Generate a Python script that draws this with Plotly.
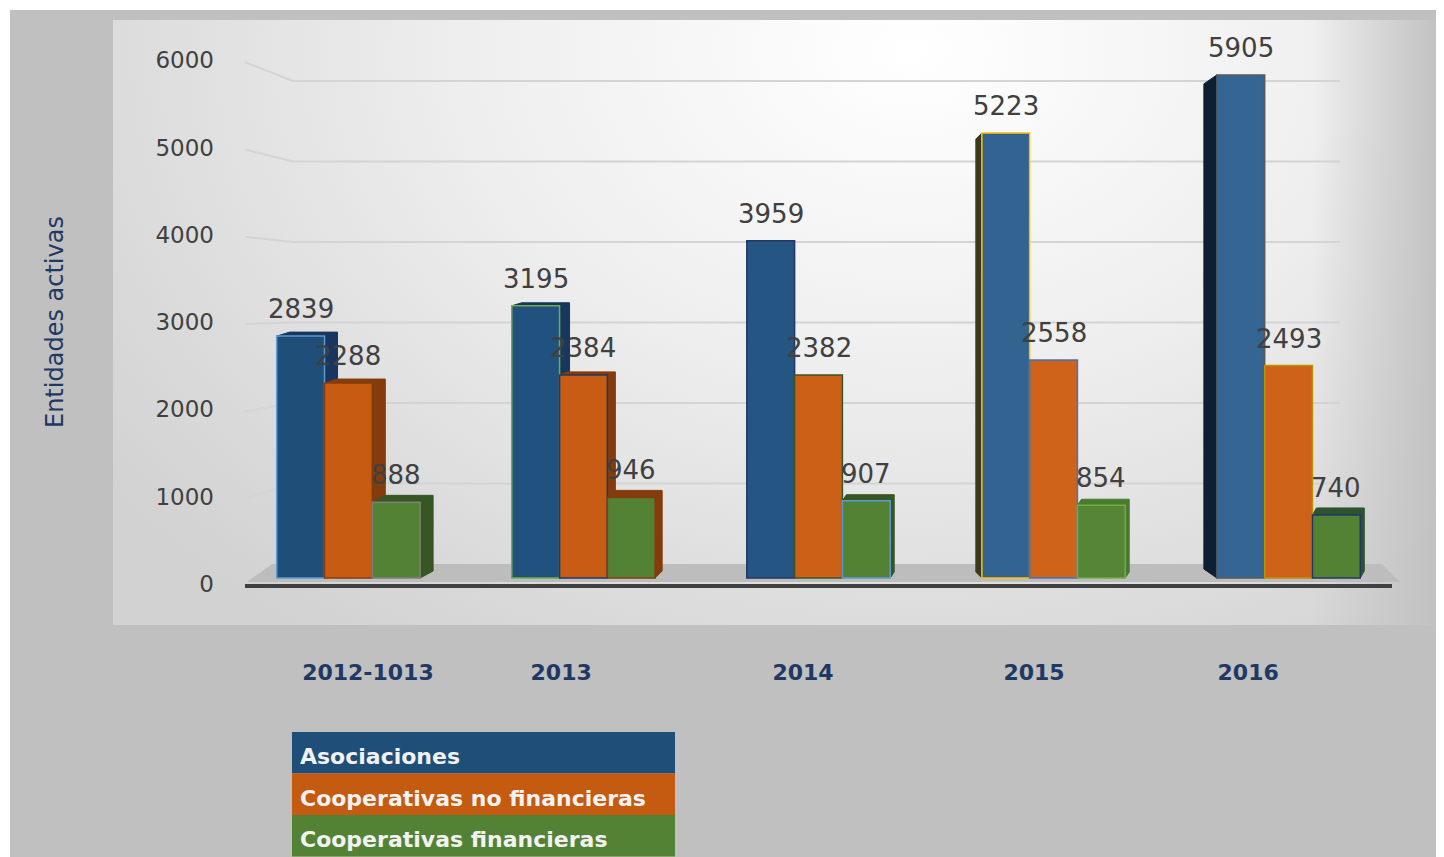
import base64
import plotly.graph_objects as go

# ---------------- data ----------------
categories = ["2012-1013", "2013", "2014", "2015", "2016"]
series_names = ["Asociaciones", "Cooperativas no financieras", "Cooperativas financieras"]
asociaciones = [2839, 3195, 3959, 5223, 5905]
coop_no_fin = [2288, 2384, 2382, 2558, 2493]
coop_fin = [888, 946, 907, 854, 740]
y_ticks = [0, 1000, 2000, 3000, 4000, 5000, 6000]
y_title = "Entidades activas"

# ---------------- layout constants (reference-pixel space) ----------------
OFF = 8                      # browser body margin
W, H = 1444 - OFF, 857 - OFF  # figure size
PLOT_L, PLOT_R, PLOT_T, PLOT_B = 245, 1392, 30, 584
ML, MT = PLOT_L - OFF, PLOT_T - OFF
MR, MB = (W + OFF) - PLOT_R, (H + OFF) - PLOT_B
PW, PH = PLOT_R - PLOT_L, PLOT_B - PLOT_T
X_RANGE = [-0.44, 4.44]
PX_PER_X = PW / (X_RANGE[1] - X_RANGE[0])
BAR_ZERO_PX, PX_PER_UNIT = 578, 0.0852      # front face of the bars
LAB_ZERO_PX, LAB_PX_PER_UNIT = 584, 0.0873  # tick labels (front edge)
GRID_ZERO_PX, GRID_PX_PER_UNIT = 564, 0.0805  # back wall
Y_MIN = -(PLOT_B - BAR_ZERO_PX) / PX_PER_UNIT
Y_MAX = Y_MIN + PH / PX_PER_UNIT
Y2_MIN = -(PLOT_B - LAB_ZERO_PX) / LAB_PX_PER_UNIT
Y2_MAX = Y2_MIN + PH / LAB_PX_PER_UNIT
BARGAP = 0.39
label_shift = [0.083, -0.095, -0.066, -0.083, -0.172]

series_values = [asociaciones, coop_no_fin, coop_fin]
series_colors = ["#1f4e79", "#c55a11", "#548235"]
bar_colors = [
    ["#1f4e79", "#21517f", "#245583", "#336391", "#356592"],
    ["#c75b12", "#c95c14", "#cd6017", "#d0631a", "#cf6219"],
    ["#548235", "#548235", "#548235", "#578536", "#548235"],
]
bar_lines = [
    ["#5b9bd5", "#70ad47", "#1f3864", "#ffc000", "#595959"],
    ["#843c0c", "#1f3864", "#375623", "#4472c4", "#bf9000"],
    ["#7f7f7f", "#843c0c", "#5b9bd5", "#70ad47", "#1f3864"],
]
# 3-D faces: (series, category, side, dx px, dy px, colour)
faces = [
    (0, 0, "r", 13, 4, "#17375e"),
    (1, 0, "r", 13, 4, "#843c0c"),
    (2, 0, "r", 13, 7, "#375623"),
    (0, 1, "r", 10, 3, "#17375e"),
    (1, 1, "r", 8, 3, "#843c0c"),
    (2, 1, "r", 7, 7, "#843c0c"),
    (2, 2, "r", 4, 6, "#375623"),
    (2, 3, "r", 4, 6, "#4a7a2e"),
    (2, 4, "r", 4, 7, "#2f5233"),
    (0, 3, "l", 6, 6, "#3a3a1a"),
    (0, 4, "l", 13, 9, "#0c1f33"),
]


def px2x(px):
    return (px - PLOT_L) / PW


def py2y(py):
    return (PLOT_B - py) / PH


def py2u(py):
    """pixel row -> units of the bar axis"""
    return (BAR_ZERO_PX - py) / PX_PER_UNIT


fig = go.Figure()
for s, (name, vals) in enumerate(zip(series_names, series_values)):
    fig.add_trace(go.Bar(
        name=name,
        x=list(range(len(categories))),
        y=vals,
        marker=dict(color=bar_colors[s], line=dict(color=bar_lines[s], width=1.5)),
        hoverinfo="x+y+name",
    ))
# empty trace so the label axis is always rendered
fig.add_trace(go.Scatter(x=[None], y=[None], yaxis="y2", showlegend=False, hoverinfo="skip"))

bw = (1 - BARGAP) / len(series_names)

# data labels
annotations = []
for s, vals in enumerate(series_values):
    for i, v in enumerate(vals):
        annotations.append(dict(
            x=i + (s - 1) * bw, y=v, xref="x", yref="y",
            text=str(v), showarrow=False, yanchor="middle", yshift=27,
            font=dict(family="DejaVu Sans", size=26, color="#404040"),
        ))

# y axis title
annotations.append(dict(
    x=px2x(55), y=py2y(322), xref="paper", yref="paper", text=y_title,
    showarrow=False, textangle=-90, xanchor="center", yanchor="middle",
    font=dict(family="DejaVu Sans", size=24, color="#1f3864"),
))

shapes = []
# white strips (top / left)
shapes.append(dict(type="rect", xref="paper", yref="paper", x0=px2x(OFF), x1=px2x(1444),
                   y0=py2y(OFF), y1=py2y(10), fillcolor="white", line=dict(width=0), layer="below"))
shapes.append(dict(type="rect", xref="paper", yref="paper", x0=px2x(OFF), x1=px2x(10),
                   y0=py2y(OFF), y1=py2y(857), fillcolor="white", line=dict(width=0), layer="below"))
# gridlines on the back wall (perspective: label level -> back wall level)
for v in y_ticks[1:]:
    front = py2u(LAB_ZERO_PX - v * LAB_PX_PER_UNIT + 2)
    back = py2u(GRID_ZERO_PX - v * GRID_PX_PER_UNIT)
    shapes.append(dict(type="path", xref="paper", yref="y",
                       path=f"M {px2x(245)},{front} L {px2x(293)},{back} L {px2x(1340)},{back}",
                       line=dict(color="#d4d4d4", width=2), layer="below"))
# floor
shapes.append(dict(type="path", xref="paper", yref="y",
                   path=(f"M {px2x(247)},{py2u(582)} L {px2x(1400)},{py2u(582)} "
                         f"L {px2x(1382)},{py2u(564)} L {px2x(272)},{py2u(564)} Z"),
                   fillcolor="#bdbdbd", line=dict(width=0), layer="below"))

# 3-D side faces, computed from the bar values through the axis scales
for s, i, side, dxp, dyp, col in faces:
    v = series_values[s][i]
    xl = i + (s - 1) * bw - bw / 2
    xr = xl + bw
    dx = dxp / PX_PER_X
    dy = dyp / PX_PER_UNIT
    if side == "r":
        path = (f"M {xr},0 L {xr + dx},{dy} L {xr + dx},{v + dy} "
                f"L {xl + dx},{v + dy} L {xl},{v} L {xr},{v} Z")
    else:
        path = (f"M {xl},0 L {xl - dx},{dy} L {xl - dx},{v - dy} L {xl},{v} Z")
    shapes.append(dict(type="path", xref="x", yref="y", path=path,
                       fillcolor=col, line=dict(color=col, width=1), layer="below"))

# legend boxes
leg_top, row_h = 732, 41.5
for s, name in enumerate(series_names):
    y0p = leg_top + s * row_h
    shapes.append(dict(type="rect", xref="paper", yref="paper", x0=px2x(292), x1=px2x(675),
                       y0=py2y(y0p + row_h), y1=py2y(y0p), fillcolor=series_colors[s],
                       line=dict(width=0)))
    annotations.append(dict(
        x=px2x(298), y=py2y(y0p + row_h / 2 + 4), xref="paper", yref="paper", text=name,
        showarrow=False, xanchor="left", yanchor="middle",
        font=dict(family="DejaVu Sans", size=22, color="#f2f2f2", weight="bold"),
    ))

# gradient background panel (svg)
svg = """<svg xmlns='http://www.w3.org/2000/svg' width='1331' height='605' viewBox='0 0 1331 605' preserveAspectRatio='none'>
<defs>
<radialGradient id='g' cx='0.6' cy='0.05' r='0.75' gradientTransform='translate(0.6 0.05) scale(1 1.6) translate(-0.6 -0.05)'>
<stop offset='0' stop-color='#ffffff'/>
<stop offset='0.45' stop-color='#eeeeee'/>
<stop offset='0.85' stop-color='#d9d9d9'/>
<stop offset='1' stop-color='#d2d2d2'/>
</radialGradient>
<linearGradient id='r' x1='0' y1='0' x2='1' y2='0'>
<stop offset='0.9' stop-color='#c0c0c0' stop-opacity='0'/>
<stop offset='1' stop-color='#c0c0c0' stop-opacity='1'/>
</linearGradient>
</defs>
<rect width='1331' height='605' fill='url(#g)'/>
<rect width='1331' height='605' fill='url(#r)'/>
</svg>"""
src = "data:image/svg+xml;base64," + base64.b64encode(svg.encode()).decode()

fig.update_layout(
    width=W, height=H,
    margin=dict(l=ML, r=MR, t=MT, b=MB),
    barmode="group", bargap=BARGAP, bargroupgap=0,
    paper_bgcolor="#c0c0c0", plot_bgcolor="rgba(0,0,0,0)",
    showlegend=False,
    annotations=annotations,
    shapes=shapes,
    images=[dict(source=src, xref="paper", yref="paper", x=px2x(113), y=py2y(20),
                 sizex=(1444 - 113) / PW, sizey=(625 - 20) / PH, sizing="stretch",
                 xanchor="left", yanchor="top", layer="below")],
    xaxis=dict(
        range=X_RANGE, showgrid=False, zeroline=False,
        showline=True, linecolor="#404040", linewidth=4,
        tickvals=[i + d for i, d in enumerate(label_shift)], ticktext=categories,
        ticks="", ticklabelstandoff=66,
        tickfont=dict(family="DejaVu Sans", size=22, color="#1f3864", weight="bold"),
    ),
    yaxis=dict(
        range=[Y_MIN, Y_MAX], showgrid=False, zeroline=False, showline=False,
        showticklabels=False, ticks="",
    ),
    yaxis2=dict(
        overlaying="y", side="left", range=[Y2_MIN, Y2_MAX],
        showgrid=False, zeroline=False, showline=False,
        tickvals=y_ticks, ticks="", ticklabelstandoff=30,
        tickfont=dict(family="DejaVu Sans", size=23, color="#404040"),
    ),
)

fig.write_html("out.html")
